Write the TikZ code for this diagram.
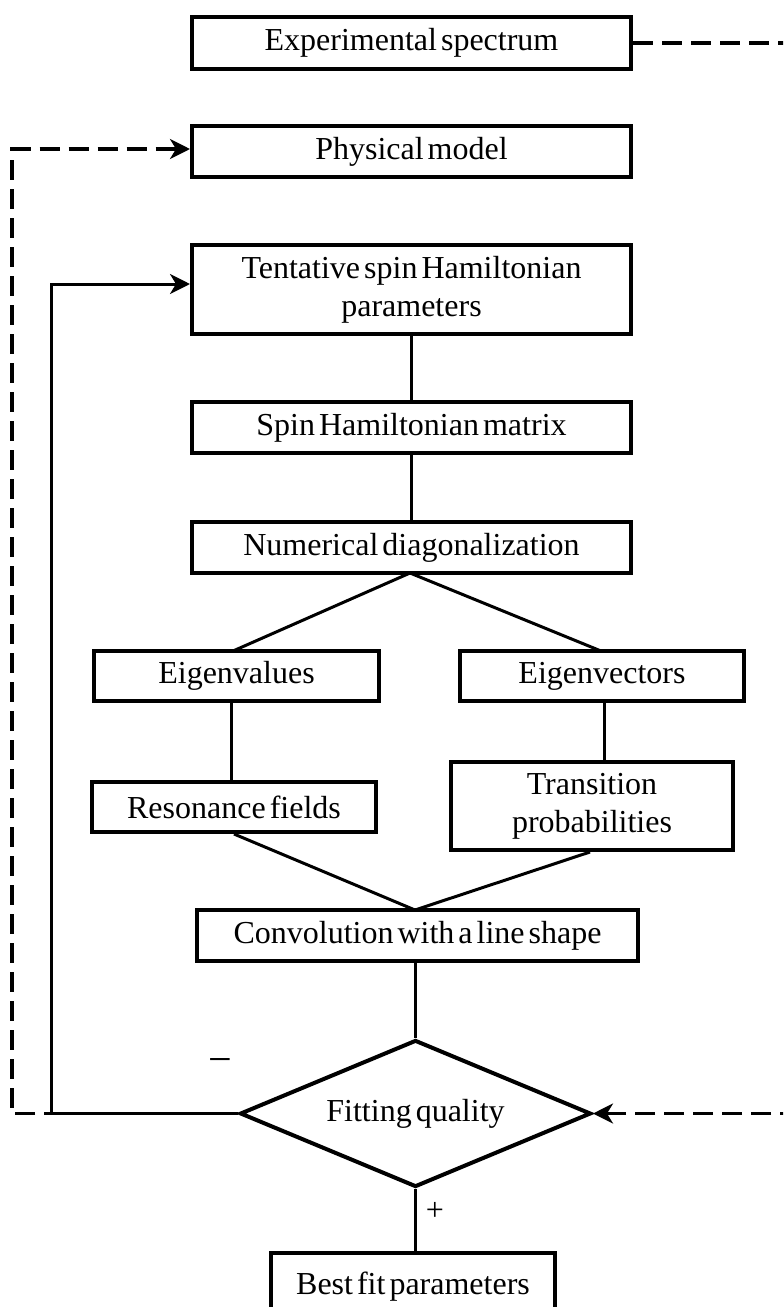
\documentclass[tikz,border=0pt]{standalone}
\usepackage{fontspec}
\setmainfont{Liberation Serif}[WordSpace=0.5]
\usetikzlibrary{arrows.meta,shapes.geometric}
\begin{document}
\begin{tikzpicture}[x=0.5pt,y=-0.5pt,
  box/.style={draw,line width=2pt,rectangle,inner sep=0pt,align=center,
    font=\fontsize{16pt}{19pt}\selectfont},
  conn/.style={line width=1.5pt},
  dconn/.style={line width=1.6pt,dash pattern=on 10pt off 4.5pt},
  tip/.style={-{Stealth[length=10pt,width=10pt,inset=3pt]}},
  lbl/.style={font=\fontsize{16pt}{19pt}\selectfont,inner sep=0pt}]
\useasboundingbox (0,0) rectangle (783,1307);
\clip (0,0) rectangle (783,1307);
% boxes
\node[box,minimum width=219.5pt,minimum height=26pt] (exp) at (411.5,43) {Experimental spectrum};
\node[box,minimum width=219.5pt,minimum height=25.5pt] (phys) at (411.5,151.5) {Physical model};
\node[box,minimum width=219.5pt,minimum height=44.5pt] (tent) at (411.5,289.5) {Tentative spin Hamiltonian\\parameters};
\node[box,minimum width=219.5pt,minimum height=25.5pt] (mat) at (411.5,427.5) {Spin Hamiltonian matrix};
\node[box,minimum width=219.5pt,minimum height=25.5pt] (num) at (411.5,547.5) {Numerical diagonalization};
\node[box,minimum width=142.5pt,minimum height=25pt] (eval) at (236.5,676) {Eigenvalues};
\node[box,minimum width=142pt,minimum height=25pt] (evec) at (602,676) {Eigenvectors};
\node[box,minimum width=142pt,minimum height=25pt] (res) at (234,807) {Resonance fields};
\node[box,minimum width=141pt,minimum height=44pt] (trans) at (592,806) {Transition\\probabilities};
\node[box,minimum width=220.5pt,minimum height=25.5pt] (conv) at (417.5,935.5) {Convolution with a line shape};
\node[box,shape=diamond,aspect=2.39,minimum width=175.5pt,minimum height=73.5pt] (fit) at (415.5,1113.5) {Fitting quality};
\node[box,minimum width=142pt,minimum height=34pt] (best) at (413,1287) {Best fit parameters};
% labels
\node[lbl,font=\fontsize{21pt}{22pt}\selectfont] (minus) at (220,1066) {−};
\node[lbl] (plus) at (435,1211) {+};
% coordinates
\coordinate (nb) at (410,573);
\coordinate (ct) at (415,910);
\coordinate (R1) at (800,43);
\coordinate (R2) at (800,1113.5);
\coordinate (L1) at (12,1113.5);
\coordinate (L2) at (12,149);
\coordinate (S1) at (51,1113.5);
\coordinate (S2) at (51,284);
% dashed feedback
\draw[dconn] (exp.east) -- (R1) -- (R2);
\draw[dconn,tip] (R2) -- (fit.east);
\draw[dconn,tip] (fit.west) -- (L1) -- (L2) -- (L2 -| phys.west);
% solid feedback
\draw[conn,tip] (fit.west) -- (S1) -- (S2) -- (S2 -| tent.west);
% main flow
\draw[conn] (tent.south) -- (mat.north);
\draw[conn] (mat.south) -- (num.north);
\draw[conn] (nb) -- (233,651) coordinate (evt);
\draw[conn] (nb) -- (601,651) coordinate (evvt);
\draw[conn] (eval.south -| 231,0) -- (res.north -| 231,0);
\draw[conn] (evec.south -| 604,0) -- (trans.north -| 604,0);
\draw[conn] (res.south) -- (ct);
\draw[conn] (trans.south -| 590,0) -- (ct);
\draw[conn] (conv.south -| fit.north) -- (fit.north);
\draw[conn] (fit.south) -- (fit.south |- best.north);
\end{tikzpicture}
\end{document}
